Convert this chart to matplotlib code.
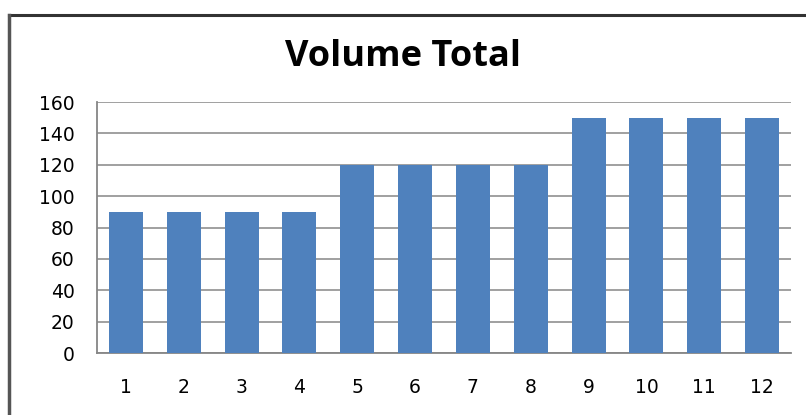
"""
Volume Total bar chart
"""

import matplotlib.pyplot as plt
from matplotlib.lines import Line2D

months = ['1', '2', '3', '4', '5', '6', '7', '8', '9', '10', '11', '12']
volume = [90, 90, 90, 90, 120, 120, 120, 120, 150, 150, 150, 150]
y_ticks = [0, 20, 40, 60, 80, 100, 120, 140, 160]


def create_chart():
    fig = plt.figure(figsize=(8.06, 4.15), dpi=100)
    ax = fig.add_axes([97 / 806, 1 - 353 / 415, 694 / 806, 251 / 415])

    x = list(range(len(months)))
    ax.bar(x, volume, width=0.59, color='#4F81BD', zorder=3)

    ax.set_xlim(-0.5, len(months) - 0.5)
    ax.set_ylim(0, 160)
    ax.set_yticks(y_ticks)
    ax.set_xticks(x)
    ax.set_xticklabels(months)

    ax.yaxis.grid(True, color='#868686', linewidth=1.1, zorder=0)
    ax.tick_params(axis='both', length=0, labelsize=13.5, colors='black')
    ax.tick_params(axis='y', pad=16)
    ax.tick_params(axis='x', pad=18)
    for side in ('top', 'right'):
        ax.spines[side].set_visible(False)
    for side in ('left', 'bottom'):
        ax.spines[side].set_color('#868686')
        ax.spines[side].set_linewidth(1.3)

    fig.text(0.5, 1 - 57 / 415, 'Volume Total', ha='center', va='center',
             fontsize=26, fontweight='bold', family='Open Sans')

    # outer chart border (top and left edges visible)
    fig.add_artist(Line2D([9 / 806, 1], [1 - 15 / 415, 1 - 15 / 415],
                          color='#333333', linewidth=2.2))
    fig.add_artist(Line2D([9 / 806, 9 / 806], [0, 1 - 15 / 415],
                          color='#555555', linewidth=2.5))

    fig.savefig('out.png', dpi=100)


if __name__ == '__main__':
    create_chart()
